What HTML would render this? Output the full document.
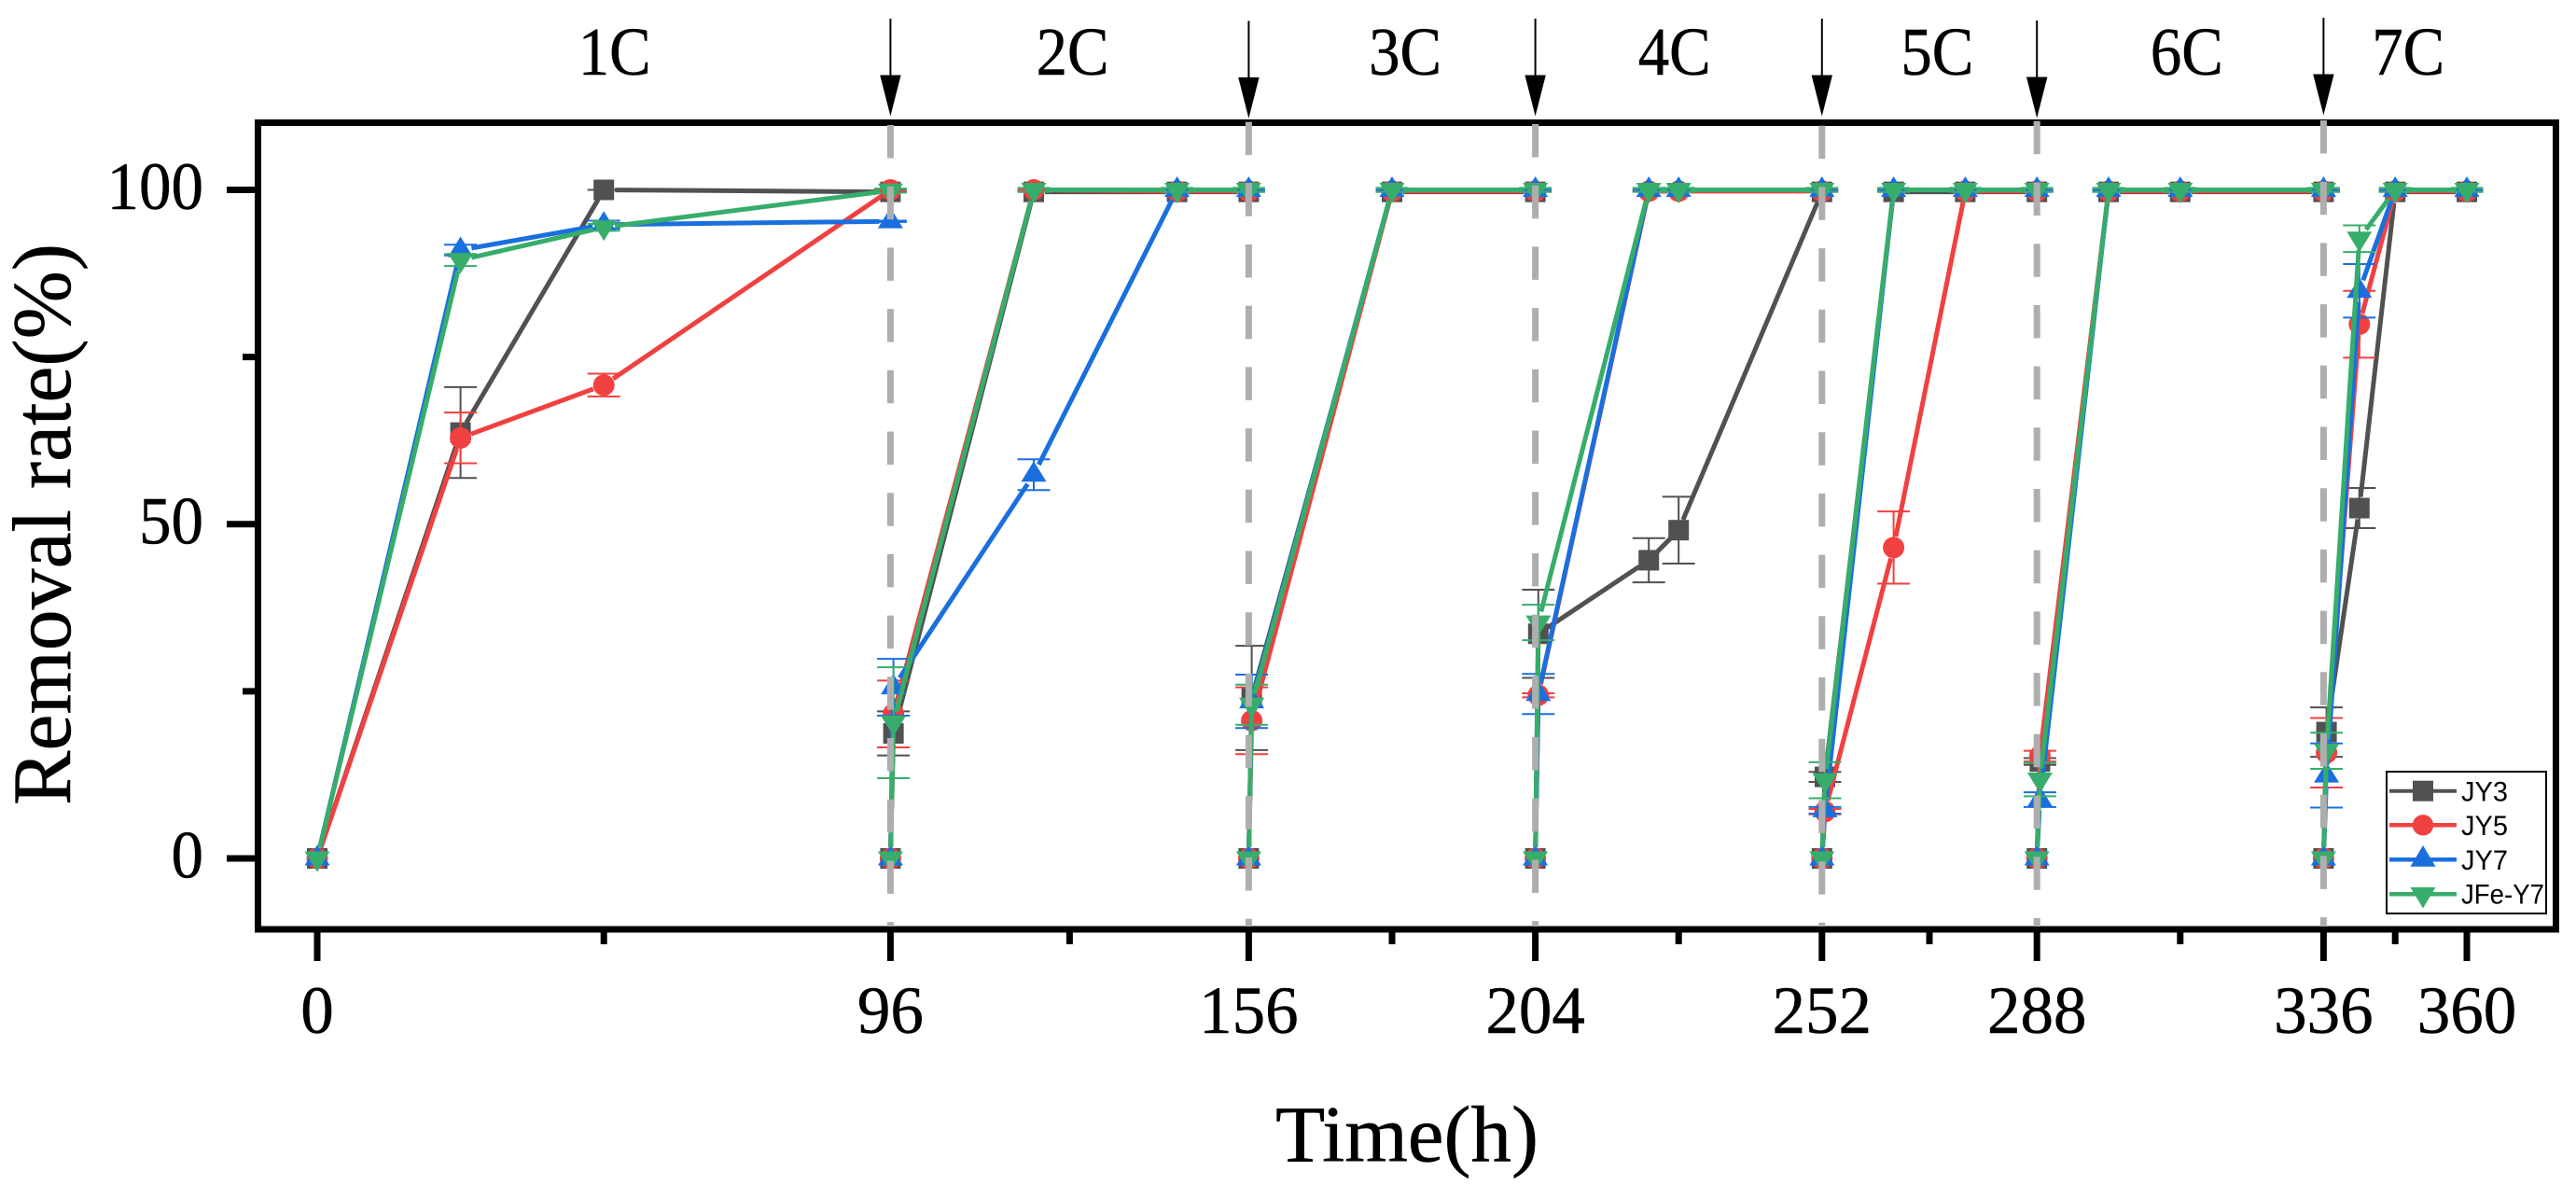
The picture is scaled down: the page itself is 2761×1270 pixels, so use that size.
<!DOCTYPE html>
<html lang="en">
<head>
<meta charset="utf-8">
<title>Removal rate over time</title>
<style>
html,body{margin:0;padding:0;background:#fff;}
svg{display:block;}
text{font-family:"Liberation Serif",serif;fill:#000;stroke:#000;stroke-width:0.5px;}
.leg{font-family:"Liberation Sans",sans-serif;font-size:30px;stroke-width:0;}
</style>
</head>
<body>
<svg id="chart" xmlns="http://www.w3.org/2000/svg" width="2761" height="1270" viewBox="0 0 2761 1270">
  <rect x="0" y="0" width="2761" height="1270" fill="#ffffff"/>
  <g id="ticks"></g>
  <rect x="276.5" y="131.5" width="2463" height="864.5" fill="none" stroke="#000" stroke-width="7"/>
  <text transform="translate(75,863) rotate(-90)" font-size="89" textLength="602" lengthAdjust="spacingAndGlyphs">Removal rate(%)</text>
  <text x="1367" y="1244.5" font-size="86" textLength="282" lengthAdjust="spacingAndGlyphs">Time(h)</text>
  <g id="series"></g>
  <g id="boundaries"></g>
  <g>
    <rect x="2558" y="827" width="171" height="152" fill="#fff" stroke="#000" stroke-width="2"/>
    <g>
      <line x1="2561" x2="2633" y1="847.7" y2="847.7" stroke="#515151" stroke-width="4"/>
      <rect x="2586" y="836.7" width="22" height="22" fill="#515151"/>
      <text class="leg" x="2638" y="858.5" textLength="50" lengthAdjust="spacingAndGlyphs">JY3</text>
    </g>
    <g>
      <line x1="2561" x2="2633" y1="884.3" y2="884.3" stroke="#F14040" stroke-width="4.5"/>
      <circle cx="2597" cy="884.3" r="11.2" fill="#F14040"/>
      <text class="leg" x="2638" y="895" textLength="50" lengthAdjust="spacingAndGlyphs">JY5</text>
    </g>
    <g>
      <line x1="2561" x2="2633" y1="921.3" y2="921.3" stroke="#1A6FDF" stroke-width="4.5"/>
      <polygon points="2597,906 2610.5,928.7 2583.5,928.7" fill="#1A6FDF"/>
      <text class="leg" x="2638" y="932" textLength="50" lengthAdjust="spacingAndGlyphs">JY7</text>
    </g>
    <g>
      <line x1="2561" x2="2633" y1="958.3" y2="958.3" stroke="#37AD6B" stroke-width="4.5"/>
      <polygon points="2583.5,951 2610.5,951 2597,973.5" fill="#37AD6B"/>
      <text class="leg" x="2638" y="968.5" textLength="89" lengthAdjust="spacingAndGlyphs">JFe-Y7</text>
    </g>
  </g>
</svg>
<script>
// ---- chart data ----
const times = [0,24,48,96,null, 96,96.5,120,144,156,null, 156,156.5,180,204,null, 204,204.5,223,228,252,null, 252,252.5,264,276,288,null, 288,288.5,300,312,336,null, 336,336.5,342,348,360];

const jy3Values = [0,63.7,100,99.7,null, 0,18.7,99.7,99.7,99.7,null, 0,24,99.7,99.7,null, 0,33.6,44.6,49.1,99.7,null, 0,12.2,99.7,99.7,99.7,null, 0,14.5,99.7,99.7,99.7,null, 0,18.9,52.4,99.7,99.7];
const jy3Errors = [null,6.8,0,0,null, null,3.3,0,0,0,null, null,7.8,0,0,null, null,6.6,3.3,5,0,null, null,0.75,0,0,0,null, null,0.5,0,0,0,null, null,3.7,3,0,0];

const jy5Values = [0,62.9,70.8,100,null, 0,21.6,100,99.8,99.8,null, 0,20.6,99.8,99.8,null, 0,24.4,99.8,99.8,99.8,null, 0,7,46.5,99.8,99.8,null, 0,15.3,99.8,99.8,99.8,null, 0,15.8,79.9,99.8,99.8];
const jy5Errors = [null,3.8,1.7,0,null, null,5,0,0,0,null, null,5,0,0,null, null,0.3,0,0,0,null, null,0.4,5.4,0,0,null, null,0.8,0,0,0,null, null,5.2,5,0,0];

const jy7Values = [0,91,94.8,95.3,null, 0,25.6,57.4,100,100,null, 0,23.5,100,100,null, 0,24.6,100,100,100,null, 0,7.2,100,100,100,null, 0,8.8,100,100,100,null, 0,12.4,84.9,100,100];
const jy7Errors = [null,0.8,0.6,0.1,null, null,4.25,2.3,0,0,null, null,4,0,0,null, null,3,0,0,0,null, null,0.5,0,0,0,null, null,1.1,0,0,0,null, null,4.8,4,0,0];

const jfeValues = [0,89.5,94.4,99.9,null, 0,20.3,100,100,100,null, 0,23,100,100,null, 0,35.3,100,100,100,null, 0,11.7,100,100,100,null, 0,11.8,100,100,100,null, 0,16.1,92.7,100,100];
const jfeErrors = [null,0.9,0.5,0.3,null, null,8.3,0.3,0.3,0.3,null, null,3,0.3,0.3,null, null,2.65,0.3,0.3,0.3,null, null,2.7,0.3,0.3,0.3,null, null,2.5,0.3,0.3,0.3,null, null,2.7,2,0.3,0.3];

const seriesNames = ['jy3','jy5','jy7','jfe-y7'];
const xMajorTicks = [0,96,156,204,252,288,336,360];
const xMinorTicks = [48,126,180,228,270,312,348];
const yMajorTicks = [0,50,100];
const yMinorTicks = [25,75];
const cycleLabels = ['1C','2C','3C','4C','5C','6C','7C'];
const cycleLabelHours = [49.8,126.5,182.2,227.3,271.3,313.1,350.2];
const cycleBoundaryHours = [96,156,204,252,288,336];

// ---- axis functions ----
function x(t){ return 340 + 6.4 * t; }
function y(v){ return 920 - 7.165 * v; }

const NS = 'http://www.w3.org/2000/svg';
function mk(tag, attrs, parent){
  const el = document.createElementNS(NS, tag);
  for (const k in attrs) el.setAttribute(k, attrs[k]);
  parent.appendChild(el);
  return el;
}

// ---- ticks ----
const tickLayer = document.getElementById('ticks');
xMajorTicks.forEach(function(t){
  const tick = mk('line', {x1:x(t), x2:x(t), y1:996, y2:1030, stroke:'#000', 'stroke-width':7}, tickLayer);
  
  
  const s = String(t);
  const label = mk('text', {x:x(t), y:1107, 'font-size':72, 'text-anchor':'middle', textLength:s.length*35.5, lengthAdjust:'spacingAndGlyphs'}, tickLayer);
  
  
  label.textContent = s;
});
xMinorTicks.forEach(function(t){
  const tick = mk('line', {x1:x(t), x2:x(t), y1:996, y2:1012, stroke:'#000', 'stroke-width':7}, tickLayer);
  
  
});
yMajorTicks.forEach(function(v){
  const tick = mk('line', {x1:243, x2:276, y1:y(v), y2:y(v), stroke:'#000', 'stroke-width':7}, tickLayer);
  
  
  const s = String(v);
  const label = mk('text', {x:218, y:y(v)+20.5, 'font-size':72, 'text-anchor':'end', textLength:s.length*34.5, lengthAdjust:'spacingAndGlyphs'}, tickLayer);
  
  
  label.textContent = s;
});
yMinorTicks.forEach(function(v){
  const tick = mk('line', {x1:260, x2:276, y1:y(v), y2:y(v), stroke:'#000', 'stroke-width':7}, tickLayer);
  
  
});

// ---- series ----
const seriesLayer = document.getElementById('series');
function drawMarker(kind, cx, cy, color, parent){
  let m;
  if (kind === 0) {
    m = mk('rect', {x:cx-11, y:cy-11, width:22, height:22, fill:color}, parent);
  } else if (kind === 1) {
    m = mk('circle', {cx:cx, cy:cy, r:11.5, fill:color}, parent);
  } else if (kind === 2) {
    m = mk('polygon', {points:(cx)+','+(cy-14.5)+' '+(cx+13.5)+','+(cy+7.5)+' '+(cx-13.5)+','+(cy+7.5), fill:color}, parent);
  } else {
    m = mk('polygon', {points:(cx-13.5)+','+(cy-7.5)+' '+(cx+13.5)+','+(cy-7.5)+' '+(cx)+','+(cy+14.5), fill:color}, parent);
  }
  
  
}
function drawSeries(kind, values, errors, color, name){
  const g = mk('g', {}, seriesLayer);
  
  
  const gap = 12;
  // line segments, stopping short of the markers
  for (let i = 0; i < times.length - 1; i++) {
    if (values[i] === null || values[i+1] === null) continue;
    const x1 = x(times[i]), y1 = y(values[i]), x2 = x(times[i+1]), y2 = y(values[i+1]);
    const len = Math.hypot(x2-x1, y2-y1);
    if (len <= gap * 2) continue;
    const ux = (x2-x1)/len, uy = (y2-y1)/len;
    const seg = mk('line', {x1:x1+ux*gap, y1:y1+uy*gap, x2:x2-ux*gap, y2:y2-uy*gap, stroke:color, 'stroke-width':5}, g);
    
    
  }
  // error bars
  for (let i = 0; i < times.length; i++) {
    if (values[i] === null || errors[i] === null) continue;
    const cx = x(times[i]);
    const top = y(values[i] + errors[i]), bot = y(values[i] - errors[i]);
    const bar = mk('path', {d:'M'+(cx-17.5)+' '+top+'H'+(cx+17.5)+'M'+cx+' '+top+'V'+bot+'M'+(cx-17.5)+' '+bot+'H'+(cx+17.5), fill:'none', stroke:color, 'stroke-width':2}, g);
    
    
  }
  // markers
  for (let i = 0; i < times.length; i++) {
    if (values[i] === null) continue;
    drawMarker(kind, x(times[i]), y(values[i]), color, g);
  }
}
drawSeries(0, jy3Values, jy3Errors, '#515151', seriesNames[0]);
drawSeries(1, jy5Values, jy5Errors, '#F14040', seriesNames[1]);
drawSeries(2, jy7Values, jy7Errors, '#1A6FDF', seriesNames[2]);
drawSeries(3, jfeValues, jfeErrors, '#37AD6B', seriesNames[3]);

// ---- cycle boundaries: dashed lines and arrows ----
const boundaryLayer = document.getElementById('boundaries');
const dashStarts = [134, 130.6, 133, 134.7, 129.8, 129];
const arrowTops = [20, 22.4, 20, 20, 22, 19];
cycleBoundaryHours.forEach(function(t, i){
  const bx = x(t);
  const dash = mk('line', {x1:bx, x2:bx, y1:dashStarts[i], y2:993, stroke:'#AEAEAE', 'stroke-width':7, 'stroke-dasharray':'35.5 30.2'}, boundaryLayer);
  
  
  const top = arrowTops[i];
  const shaft = mk('line', {x1:bx, x2:bx, y1:top, y2:top+65, stroke:'#000', 'stroke-width':2}, boundaryLayer);
  
  
  const head = mk('polygon', {points:(bx-11.2)+','+(top+60.5)+' '+(bx+11.2)+','+(top+60.5)+' '+bx+','+(top+104.5), fill:'#000'}, boundaryLayer);
  
  
});
cycleLabels.forEach(function(s, i){
  const label = mk('text', {x:x(cycleLabelHours[i]), y:80, 'font-size':73, 'text-anchor':'middle', textLength:78, lengthAdjust:'spacingAndGlyphs'}, boundaryLayer);
  
  
  label.textContent = s;
});
</script>
</body>
</html>
